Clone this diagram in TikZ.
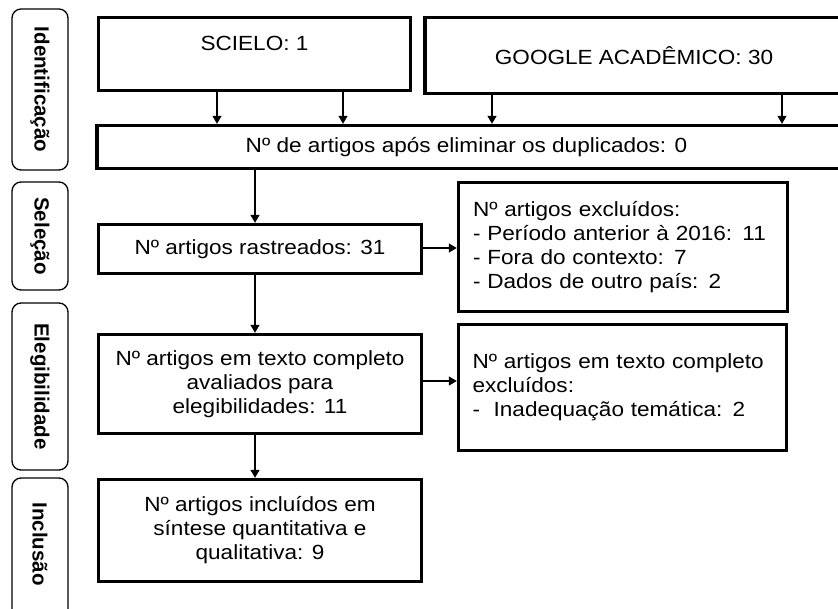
\documentclass[tikz,border=0pt]{standalone}
\usepackage{fontspec}
\setmainfont{Liberation Sans}[FakeStretch=1.1]
\newfontfamily\stagefont{Liberation Sans}[FakeStretch=1.0]
\usetikzlibrary{arrows.meta}

\tikzset{
  stagebox/.style={draw, line width=1.3pt, rounded corners=9pt, minimum width=56pt,
    text width=0pt, align=center, inner sep=0pt},
  stagetext/.style={rotate=-90, font=\stagefont\fontsize{20.5}{24}\bfseries\selectfont},
  box/.style={draw, line width=3.4pt, inner sep=0pt, align=center},
  arr/.style={-{Triangle[length=8pt,width=9pt]}, line width=1.2pt}
}

\begin{document}
\begin{tikzpicture}[x=1pt,y=-1pt]
\fontsize{20.5}{24}\selectfont
\clip (0,0) rectangle (838,608);
\useasboundingbox (0,0) rectangle (838,608);

% Stage labels on the left
\node[stagebox, minimum height=161pt] (idlab) at (40,89.5) {};
\node[stagetext] (idtxt) at (idlab) {Identificação};
\node[stagebox, minimum height=108pt] (sellab) at (40,236) {};
\node[stagetext] (seltxt) at (sellab) {Seleção};
\node[stagebox, minimum height=167pt] (eleglab) at (40,386.5) {};
\node[stagetext] (elegtxt) at (eleglab) {Elegibilidade};
\node[stagebox, minimum height=150pt] (inclab) at (40,553) {};
\node[stagetext] (inctxt) at (40,544) {Inclusão};

% Identification
\node[box, minimum width=312pt, minimum height=73pt, text depth=22pt] (scielo) at (254.5,54) {SCIELO: 1};
\node[box, minimum width=418pt, minimum height=76pt] (google) at (634,55.5) {GOOGLE ACADÊMICO: 30};
\node[box, minimum width=760pt, minimum height=43pt] (dup) at (477,147)
  {\hspace*{-21pt}Nº de artigos após eliminar os duplicados: 0};

% Selection
\node[box, minimum width=329pt, minimum height=129pt, align=left, text width=300pt] (excl) at (623,247)
  {Nº artigos excluídos:\\
   - Período anterior à 2016: 11\\
   - Fora do contexto: 7\\
   - Dados de outro país: 2\\[22pt]};
\node[box, minimum width=323pt, minimum height=49pt] (rastr) at (260,249) {Nº artigos rastreados: 31};

% Eligibility
\node[box, minimum width=323pt, minimum height=99pt] (eleg) at (260,384)
  {Nº artigos em texto completo\\ avaliados para\\ elegibilidades: 11};
\node[box, minimum width=328pt, minimum height=126pt, align=left, text width=300pt] (exclb) at (622.5,387.5)
  {Nº artigos em texto completo\\
   excluídos:\\
   -~ Inadequação temática: 2};

% Inclusion
\node[box, minimum width=323pt, minimum height=102pt] (incl) at (260,530.5)
  {Nº artigos incluídos em\\ síntese quantitativa e\\ qualitativa: 9};

% Arrows
\draw[arr] ([xshift=-37.5pt]scielo.south) -- ([xshift=-37.5pt]scielo.south |- dup.north);
\draw[arr] ([xshift=88.5pt]scielo.south) -- ([xshift=88.5pt]scielo.south |- dup.north);
\draw[arr] ([xshift=-142pt]google.south) -- ([xshift=-142pt]google.south |- dup.north);
\draw[arr] ([xshift=148pt]google.south) -- ([xshift=148pt]google.south |- dup.north);
\draw[arr] ([xshift=-5pt]dup.south -| rastr.north) -- ([xshift=-5pt]rastr.north);
\draw[arr] ([yshift=1pt]rastr.east) -- ([yshift=1pt]rastr.east -| excl.west);
\draw[arr] ([xshift=-5pt]rastr.south) -- ([xshift=-5pt]eleg.north);
\draw[arr] ([yshift=3pt]eleg.east) -- ([yshift=3pt]eleg.east -| exclb.west);
\draw[arr] ([xshift=-5pt]eleg.south) -- ([xshift=-5pt]incl.north);
\end{tikzpicture}
\end{document}
